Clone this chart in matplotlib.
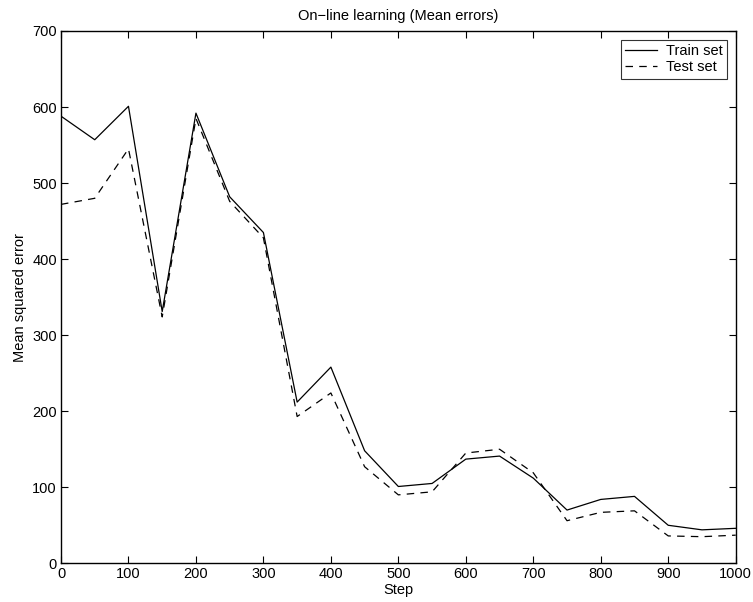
import matplotlib
matplotlib.use("Agg")
import matplotlib.pyplot as plt

steps = [0, 50, 100, 150, 200, 250, 300, 350, 400, 450, 500, 550, 600, 650, 700, 750, 800, 850, 900, 950, 1000]
train = [588, 557, 601, 331, 592, 482, 435, 212, 258, 148, 101, 105, 137, 141, 112, 70, 84, 88, 50, 44, 46]
test = [472, 480, 545, 324, 585, 476, 428, 193, 224, 127, 90, 94, 145, 150, 119, 56, 67, 69, 36, 35, 37]

plt.rcParams['font.family'] = ['Liberation Sans', 'DejaVu Sans']

fig = plt.figure(figsize=(7.53, 6.02), dpi=100)
ax = fig.add_axes([61/753, (602-563.3)/602, (735.7-61)/753, (563.3-31)/602])

ax.plot(steps, train, color='black', lw=0.9, label='Train set')
ax.plot(steps, test, color='black', lw=0.9, linestyle=(0, (6, 5)), label='Test set')

ax.set_xlim(0, 1000)
ax.set_ylim(0, 700)
ax.set_xticks(range(0, 1001, 100))
ax.set_yticks(range(0, 701, 100))
ax.tick_params(direction='in', top=True, right=True, length=5, width=0.8, labelsize=10.5, pad=3)
for s in ax.spines.values():
    s.set_linewidth(1.0)

ax.set_title('On\u2212line learning (Mean errors)', fontsize=10.5, pad=8)
ax.set_xlabel('Step', fontsize=10.5, labelpad=1)
ax.set_ylabel('Mean squared error', fontsize=10.5, labelpad=4)

leg = ax.legend(loc='upper right', fontsize=10.5, frameon=True, fancybox=False,
                edgecolor='black', handlelength=2.2, borderaxespad=0.6,
                borderpad=0.3, labelspacing=0.15, handletextpad=0.6)
leg.get_frame().set_linewidth(0.8)

fig.savefig('out.png', dpi=100)
